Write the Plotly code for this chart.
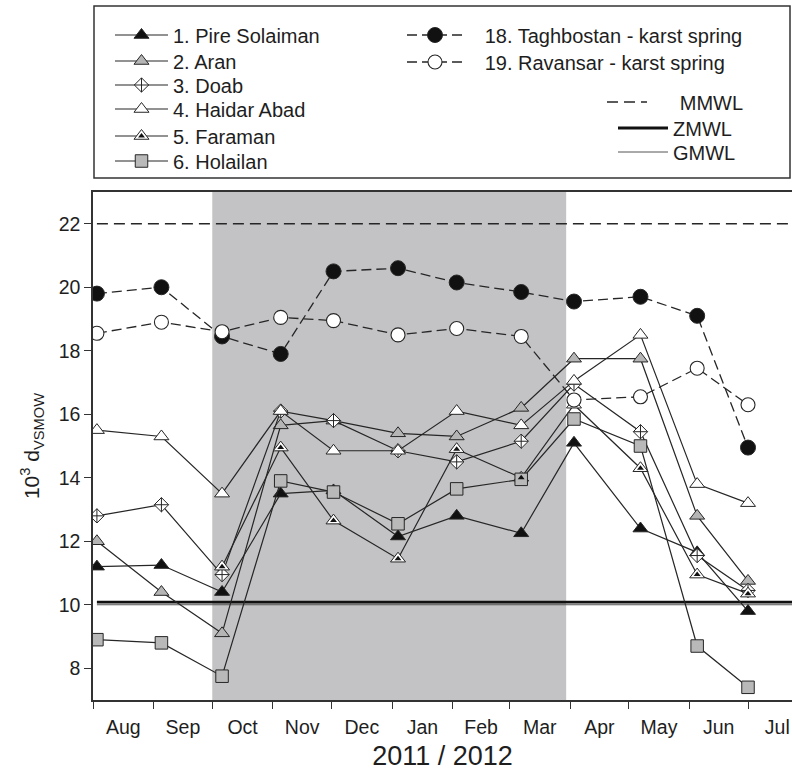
import plotly.graph_objects as go

# ---------------- data ----------------
DATES = ["2011-08-03", "2011-09-05", "2011-10-06", "2011-11-05", "2011-12-02", "2012-01-04",
         "2012-02-03", "2012-03-07", "2012-04-03", "2012-05-07", "2012-06-05", "2012-07-01"]

PIRE_SOLAIMAN = [11.2, 11.25, 10.4, 13.5, 13.6, 12.15, 12.8, 12.25, 15.1, 12.4, 11.65, 9.8]
ARAN = [12.0, 10.4, 9.1, 15.65, 15.8, 15.4, 15.3, 16.2, 17.75, 17.75, 12.8, 10.75]
DOAB = [12.8, 13.15, 10.95, 16.1, 15.8, 14.85, 14.5, 15.15, 16.95, 15.45, 11.55, 10.45]
HAIDAR_ABAD = [15.5, 15.3, 13.5, 16.1, 14.85, 14.85, 16.1, 15.65, 17.05, 18.5, 13.8, 13.2]
FARAMAN = [None, None, 11.2, 14.95, 12.65, 11.45, 14.9, 14.0, 16.3, 14.3, 10.95, 10.35]
HOLAILAN = [8.9, 8.8, 7.75, 13.9, 13.55, 12.55, 13.65, 13.95, 15.85, 15.0, 8.7, 7.4]
TAGHBOSTAN = [19.8, 20.0, 18.45, 17.9, 20.5, 20.6, 20.15, 19.85, 19.55, 19.7, 19.1, 14.95]
RAVANSAR = [18.55, 18.9, 18.6, 19.05, 18.95, 18.5, 18.7, 18.45, 16.45, 16.55, 17.45, 16.3]

MMWL_D = 22.0
ZMWL_D = 10.08
GMWL_D = 10.0

SHADE_START = "2011-10-01"
SHADE_END = "2012-03-30"
X_RANGE = ["2011-08-01", "2012-07-23 12:00"]
Y_RANGE = [7, 23]
Y_TICKS = [8, 10, 12, 14, 16, 18, 20, 22]

# ---------------- layout geometry ----------------
W, H = 792, 771
L, T, R, B = 93, 192, 0, 71
PW, PH = W - L - R, H - T - B


def px_x(px):
    return (px - L) / PW


def px_y(py):
    return (H - B - py) / PH


FONT = "Liberation Sans, Arial, Helvetica, sans-serif"
INK = "#262626"
NB = "\u00a0"

fig = go.Figure()
legend_layouts = {}
legend_count = [0]


def new_legend(left_px, center_px, itemwidth):
    legend_count[0] += 1
    key = "legend" if legend_count[0] == 1 else f"legend{legend_count[0]}"
    legend_layouts[key] = dict(
        x=px_x(left_px), y=px_y(center_px), xanchor="left", yanchor="middle",
        bgcolor="rgba(0,0,0,0)", borderwidth=0, itemwidth=itemwidth, itemsizing="trace",
        font=dict(family=FONT, size=20, color="#1e1e1e"))
    return key


# reference lines (drawn first, underneath)
ref_x = [DATES[0], X_RANGE[1]]
fig.add_trace(go.Scatter(x=ref_x, y=[MMWL_D, MMWL_D], mode="lines", name=NB * 5 + "MMWL",
                         line=dict(color=INK, width=1.6, dash="11px,6px"),
                         legend=new_legend(602, 102, 40)))
fig.add_trace(go.Scatter(x=ref_x, y=[ZMWL_D, ZMWL_D], mode="lines", name="ZMWL",
                         line=dict(color="#111111", width=2.8),
                         legend=new_legend(613, 128, 50)))
fig.add_trace(go.Scatter(x=ref_x, y=[GMWL_D, GMWL_D], mode="lines", name="GMWL",
                         line=dict(color="#555555", width=1.0),
                         legend=new_legend(613, 152, 50)))

site_line = dict(color=INK, width=1.2)
SITE_ROWS = [35, 61, 85, 109, 136, 161]


def site(name, vals, symbol, fill, size, row):
    key = new_legend(110, SITE_ROWS[row], 53)
    fig.add_trace(go.Scatter(
        x=DATES, y=vals, mode="lines+markers", name=name,
        line=site_line, connectgaps=False,
        marker=dict(symbol=symbol, size=size, color=fill, line=dict(color=INK, width=1)),
        legend=key))
    return key


site("1. Pire Solaiman", PIRE_SOLAIMAN, "triangle-up", "#111111", 13, 0)
site("2. Aran", ARAN, "triangle-up", "#b5b5b5", 13, 1)
site("3. Doab", DOAB, "diamond-cross", "white", 11, 2)
site("4. Haidar Abad", HAIDAR_ABAD, "triangle-up", "white", 13, 3)
site("5. Faraman", FARAMAN, "triangle-up", "white", 13, 4)
site("6. Holailan", HOLAILAN, "square", "#b9b9b9", 12.5, 5)

# inner black triangle of Faraman markers (its legend sits on the Faraman legend symbol)
fig.add_trace(go.Scatter(
    x=DATES, y=FARAMAN, mode="markers", name=NB, hoverinfo="skip",
    marker=dict(symbol="triangle-up", size=6, color="#111111", line=dict(width=0)),
    legend=new_legend(110, SITE_ROWS[4], 53)))

spring_line = dict(color=INK, width=1.3, dash="10px,5px")
fig.add_trace(go.Scatter(
    x=DATES, y=TAGHBOSTAN, mode="lines+markers", name=NB * 3 + "18. Taghbostan - karst spring",
    line=spring_line,
    marker=dict(symbol="circle", size=15, color="#111111", line=dict(color=INK, width=1)),
    legend=new_legend(402, 35, 56)))
fig.add_trace(go.Scatter(
    x=DATES, y=RAVANSAR, mode="lines+markers", name=NB * 3 + "19. Ravansar - karst spring",
    line=spring_line,
    marker=dict(symbol="circle", size=14, color="white", line=dict(color=INK, width=1.1)),
    legend=new_legend(402, 62, 56)))

fig.update_layout(
    width=W, height=H,
    margin=dict(l=L, r=R, t=T, b=B, pad=0),
    paper_bgcolor="white", plot_bgcolor="white",
    font=dict(family=FONT, size=19.5, color="#1e1e1e"),
    showlegend=True,
    xaxis=dict(
        type="date", range=X_RANGE, showgrid=False, zeroline=False,
        showline=True, linecolor="#333333", linewidth=1.5, mirror=True,
        ticks="outside", ticklen=7, tickwidth=1.2, tickcolor="#333333",
        tick0="2011-08-01", dtick="M1", tickformat="%b", ticklabelmode="period",
        tickfont=dict(size=19.5), ticklabelstandoff=2,
        title=dict(text="2011 / 2012", font=dict(size=27), standoff=10),
    ),
    yaxis=dict(
        range=Y_RANGE, tickvals=Y_TICKS, showgrid=False, zeroline=False,
        showline=True, linecolor="#333333", linewidth=1.5, mirror=False,
        ticks="outside", ticklen=7, tickwidth=1.2, tickcolor="#333333",
        tickfont=dict(size=19.5),
        title=dict(text="10<sup>3</sup> d<sub>VSMOW</sub>", font=dict(size=21), standoff=13),
    ),
    shapes=[
        dict(type="rect", xref="x", yref="paper", x0=SHADE_START, x1=SHADE_END, y0=0, y1=1,
             fillcolor="#c3c3c5", line=dict(width=0), layer="below"),
        dict(type="rect", xref="paper", yref="paper", x0=px_x(94), x1=px_x(790),
             y0=px_y(178), y1=px_y(6), line=dict(color="#333333", width=1.5),
             fillcolor="rgba(0,0,0,0)", layer="above"),
    ],
    **legend_layouts,
)

fig.write_html("out.html")
